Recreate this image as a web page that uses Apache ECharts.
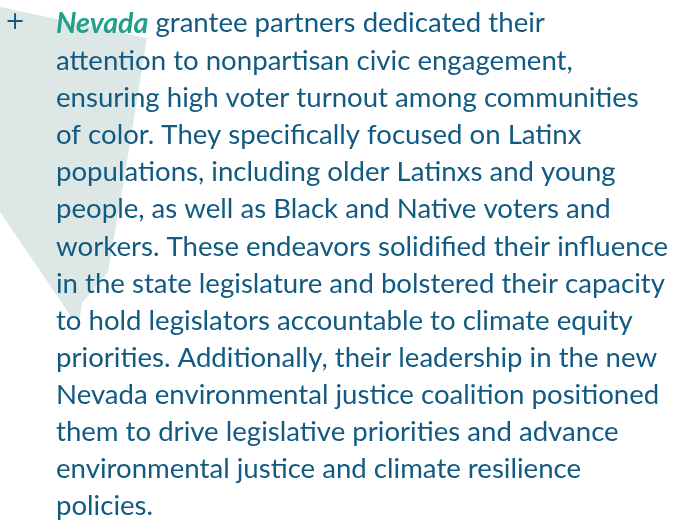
<!DOCTYPE html>
<html><head><meta charset="utf-8">
<script src="https://cdn.jsdelivr.net/npm/echarts@6/dist/echarts.min.js"></script>
<style>html,body{margin:0;padding:0;background:#fff}#c{width:676px;height:522px}</style>
</head><body><div id="c"></div>
<script>
var leadWord = 'Nevada';
var lines = [
  ' grantee partners dedicated their',
  'attention to nonpartisan civic engagement,',
  'ensuring high voter turnout among communities',
  'of color. They specifically focused on Latinx',
  'populations, including older Latinxs and young',
  'people, as well as Black and Native voters and',
  'workers. These endeavors solidified their influence',
  'in the state legislature and bolstered their capacity',
  'to hold legislators accountable to climate equity',
  'priorities. Additionally, their leadership in the new',
  'Nevada environmental justice coalition positioned',
  'them to drive legislative priorities and advance',
  'environmental justice and climate resilience',
  'policies.'
];
var shapePts = [[0,7],[147,38],[124,180],[108,272],[82,303],[80,317],[72,318],[0,212]];
var chart = echarts.init(document.getElementById('c'));
var font = 'Lato';
var size = 27.6;
var textColor = '#115a82';
var els = [];
els.push({type:'polygon', shape:{points:shapePts}, style:{fill:'#dde8e6'}});
els.push({type:'text', x:15, y:23, style:{text:'+', font:'400 24px "DejaVu Sans"', fill:textColor, align:'center', verticalAlign:'middle'}});
var baseTop = 38, step = 37.1;
lines.forEach(function(t,i){
  var txt = i===0 ? '{b|'+leadWord+'}{n|'+t+'}' : '{n|'+t+'}';
  els.push({type:'text', x:56, y:baseTop + i*step, style:{
    text: txt, verticalAlign:'bottom', align:'left',
    rich:{
      b:{fontFamily:font, fontSize:size+1, fontWeight:'bold', fontStyle:'italic', fill:'#23a08a', color:'#23a08a'},
      n:{fontFamily:font, fontSize:size, fontWeight:'normal', fill:textColor, color:textColor}
    }
  }});
});
chart.setOption({animation:false, graphic:{elements:els}});
</script></body></html>
